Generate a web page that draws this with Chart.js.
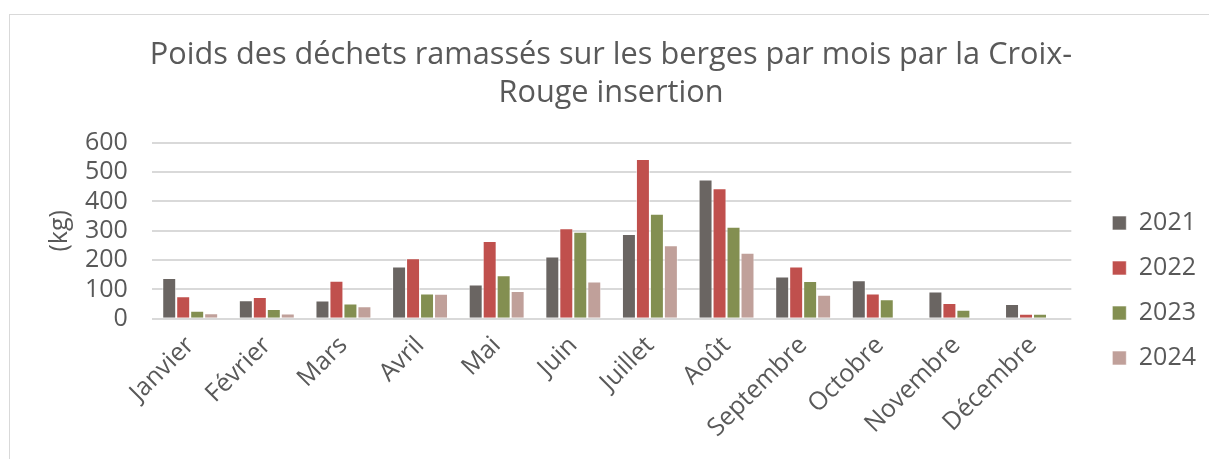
<!DOCTYPE html>
<html>
<head>
<meta charset="utf-8">
<script src="https://cdn.jsdelivr.net/npm/chart.js@4"></script>
<style>
  html, body { margin: 0; padding: 0; background: #fff; }
  #frame { position: absolute; left: 9px; top: 14px; width: 1200px; height: 445px;
           border-left: 1px solid #d9d9d9; border-top: 1px solid #d9d9d9; }
  #wrap { position: absolute; left: 0; top: 0; width: 1209px; height: 459px; }
</style>
</head>
<body>
<div id="frame"></div>
<div id="wrap"><canvas id="myChart"></canvas></div>
<script>
const months = ['Janvier', 'Février', 'Mars', 'Avril', 'Mai', 'Juin', 'Juillet', 'Août', 'Septembre', 'Octobre', 'Novembre', 'Décembre'];
const years = ['2021', '2022', '2023', '2024'];
const kg2021 = [139, 63, 62, 178, 117, 212, 289, 475, 144, 131, 93, 50];
const kg2022 = [77, 74, 130, 206, 265, 309, 545, 445, 178, 86, 54, 17];
const kg2023 = [27, 33, 52, 86, 148, 297, 358, 314, 129, 67, 31, 17];
const kg2024 = [19, 18, 43, 85, 95, 127, 251, 225, 82, null, null, null];
const colors = ['#6a6562', '#c0504d', '#838f51', '#c0a09a'];
const yTicks = [0, 100, 200, 300, 400, 500, 600];

const grey = '#595959';
const font = '"Open Sans", sans-serif';

// the legend sits lower and a bit further right than Chart.js puts it
const legendShift = {
    id: 'legendShift',
    afterLayout(chart) {
        const lg = chart.legend;
        lg.left += 21; lg.right += 21;
        lg.top += 67; lg.bottom += 67;
    }
};

const ctx = document.getElementById('myChart').getContext('2d');
const myChart = new Chart(ctx, {
    type: 'bar',
    data: {
        labels: months,
        datasets: [kg2021, kg2022, kg2023, kg2024].map((vals, i) => ({
            label: years[i],
            data: vals,
            backgroundColor: colors[i],
            borderColor: 'rgba(255,255,255,0.6)',
            borderWidth: 1,
            barPercentage: 1,
            categoryPercentage: 0.73
        }))
    },
    plugins: [legendShift],
    options: {
        responsive: true,
        maintainAspectRatio: false,
        animation: false,
        layout: { padding: { left: 37, right: 24, top: 0, bottom: 12 } },
        scales: {
            x: {
                grid: { display: false },
                border: { display: false },
                ticks: {
                    color: grey,
                    font: { family: font, size: 25 },
                    maxRotation: 45,
                    minRotation: 45,
                    padding: 4
                }
            },
            y: {
                min: 0,
                max: 600,
                afterBuildTicks: (axis) => { axis.ticks = yTicks.map(v => ({ value: v })); },
                grid: { color: '#d9d9d9', lineWidth: 2, drawTicks: false },
                border: { display: false },
                ticks: { color: grey, font: { family: font, size: 25 }, padding: 24, autoSkip: false },
                title: { display: true, text: '(kg)', color: grey, font: { family: font, size: 25 }, padding: { top: 8, bottom: -14 } }
            }
        },
        plugins: {
            legend: {
                position: 'right',
                labels: {
                    color: grey,
                    font: { family: font, size: 25 },
                    boxWidth: 14,
                    boxHeight: 14,
                    padding: 20
                }
            },
            tooltip: { enabled: false },
            title: {
                display: true,
                text: ['Poids des déchets ramassés sur les berges par mois par la Croix-', 'Rouge insertion'],
                color: grey,
                font: { family: font, size: 30.7, weight: 'normal', lineHeight: 1.25 },
                padding: { top: 36, bottom: 30 }
            }
        }
    }
});
</script>
</body>
</html>
